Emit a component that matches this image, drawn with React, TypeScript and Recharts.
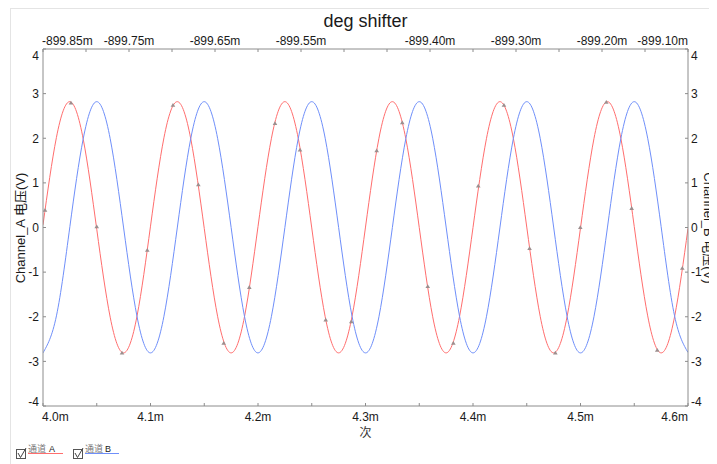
import React from 'react';
import { ComposedChart, Line, Scatter, XAxis, YAxis, Label } from 'recharts';

// time axis (ms) for sampled curve values
const times = [
  4.0, 4.0125, 4.025, 4.0375, 4.05, 4.0625, 4.075, 4.0875,
  4.1, 4.1125, 4.125, 4.1375, 4.15, 4.1625, 4.175, 4.1875,
  4.2, 4.2125, 4.225, 4.2375, 4.25, 4.2625, 4.275, 4.2875,
  4.3, 4.3125, 4.325, 4.3375, 4.35, 4.3625, 4.375, 4.3875,
  4.4, 4.4125, 4.425, 4.4375, 4.45, 4.4625, 4.475, 4.4875,
  4.5, 4.5125, 4.525, 4.5375, 4.55, 4.5625, 4.575, 4.5875,
  4.6,
];

// second (top) time scale, in ms, for the same samples
const topTimes = [
  -899.85, -899.834375, -899.81875, -899.803125, -899.7875, -899.771875, -899.75625, -899.740625,
  -899.725, -899.709375, -899.69375, -899.678125, -899.6625, -899.646875, -899.63125, -899.615625,
  -899.6, -899.584375, -899.56875, -899.553125, -899.5375, -899.521875, -899.50625, -899.490625,
  -899.475, -899.459375, -899.44375, -899.428125, -899.4125, -899.396875, -899.38125, -899.365625,
  -899.35, -899.334375, -899.31875, -899.303125, -899.2875, -899.271875, -899.25625, -899.240625,
  -899.225, -899.209375, -899.19375, -899.178125, -899.1625, -899.146875, -899.13125, -899.115625,
  -899.1,
];

// Channel_A voltage (V)
const channelA = [
  0.06, 2.02, 2.82, 1.97, -0.04, -2.01, -2.81, -1.98,
  0.03, 2.01, 2.82, 1.98, -0.02, -2.0, -2.81, -1.99,
  0.02, 2.0, 2.82, 1.99, -0.01, -2.0, -2.81, -1.99,
  0.01, 2.0, 2.82, 1.99, 0.0, -2.0, -2.81, -1.99,
  0.0, 1.99, 2.82, 2.0, 0.01, -1.99, -2.81, -2.0,
  -0.01, 1.99, 2.82, 2.0, 0.02, -1.98, -2.81, -2.0,
  -0.02,
];

// Channel_B voltage (V)
const channelB = [
  -2.81, -1.98, 0.02, 2.0, 2.82, 1.99, -0.01, -2.0,
  -2.81, -1.99, 0.01, 2.0, 2.82, 1.99, 0.0, -2.0,
  -2.81, -1.99, 0.0, 2.0, 2.82, 2.0, 0.0, -1.99,
  -2.81, -2.0, 0.0, 1.99, 2.82, 2.0, 0.01, -1.99,
  -2.81, -2.0, -0.01, 1.99, 2.82, 2.0, 0.01, -1.99,
  -2.81, -2.0, -0.01, 1.99, 2.82, 2.0, 0.02, -1.98,
  -2.8,
];

// sample markers drawn on Channel_A
const markerTimes = [
  4.0019, 4.026, 4.05, 4.0735, 4.097, 4.1209, 4.1445, 4.1681, 4.1919,
  4.2158, 4.2391, 4.263, 4.2868, 4.3104, 4.3342, 4.3579, 4.3817,
  4.4049, 4.4288, 4.4526, 4.4766, 4.4998, 4.524, 4.5476, 4.5714, 4.5947,
];
const markerValues = [
  0.39, 2.79, 0.02, -2.81, -0.51, 2.74, 0.96, -2.59, -1.34,
  2.33, 1.74, -2.07, -2.11, 1.72, 2.35, -1.32, -2.59,
  0.93, 2.74, -0.47, -2.81, 0.0, 2.81, 0.43, -2.75, -0.91,
];

// axis ticks
const bottomTicks = [4.0, 4.05, 4.1, 4.15, 4.2, 4.25, 4.3, 4.35, 4.4, 4.45, 4.5, 4.55, 4.6];
const bottomLabelTicks = [4.0, 4.1, 4.2, 4.3, 4.4, 4.5, 4.6];
const topTicks = [
  -899.85, -899.8, -899.75, -899.7, -899.65, -899.6, -899.55, -899.5,
  -899.45, -899.4, -899.35, -899.3, -899.25, -899.2, -899.15, -899.1,
];
const topLabelTicks = [-899.85, -899.75, -899.65, -899.55, -899.4, -899.3, -899.2, -899.1];
const yTicks = [-4, -3, -2, -1, 0, 1, 2, 3, 4];

const rows = times.map((t, i) => ({ t, tt: topTimes[i], a: channelA[i], b: channelB[i] }));
const markers = markerTimes.map((t, i) => ({ t, v: markerValues[i] }));

const AXIS = '#8c8c8c';
const TEXT = '#1a1a1a';
const RED = '#ff6e6e';
const BLUE = '#6f8ffa';
const FONT = '"Liberation Sans", Arial, "Noto Sans CJK SC", sans-serif';
const CJK = '"Noto Sans CJK SC", "Liberation Sans", sans-serif';

const near = (a: number, b: number) => Math.abs(a - b) < 1e-6;

function BottomTick(props: any) {
  const { x, y, payload } = props;
  const v = payload.value as number;
  const isLabel = bottomLabelTicks.some((t) => near(t, v));
  let anchor: 'start' | 'middle' | 'end' = 'middle';
  let dx = 0;
  if (near(v, bottomLabelTicks[0])) { anchor = 'start'; dx = -1; }
  if (near(v, bottomLabelTicks[bottomLabelTicks.length - 1])) { anchor = 'end'; dx = 0; }
  return (
    <g>
      <line x1={x} x2={x} y1={y} y2={y - 3} stroke={AXIS} />
      {isLabel && (
        <text x={x + dx} y={y + 15} textAnchor={anchor} fontSize={12} fontFamily={FONT} fill={TEXT}>
          {v.toFixed(1) + 'm'}
        </text>
      )}
    </g>
  );
}

function TopTick(props: any) {
  const { x, y, payload } = props;
  const v = payload.value as number;
  const isLabel = topLabelTicks.some((t) => near(t, v));
  let anchor: 'start' | 'middle' | 'end' = 'middle';
  let dx = 0;
  if (near(v, topLabelTicks[0])) { anchor = 'start'; dx = -1; }
  if (near(v, topLabelTicks[topLabelTicks.length - 1])) { anchor = 'end'; dx = 0; }
  return (
    <g>
      <line x1={x} x2={x} y1={y} y2={y + 3} stroke={AXIS} />
      {isLabel && (
        <text x={x + dx} y={y - 4.3} textAnchor={anchor} fontSize={12} fontFamily={FONT} fill={TEXT}>
          {v.toFixed(2) + 'm'}
        </text>
      )}
    </g>
  );
}

function yLabelBaseline(v: number, y: number) {
  if (v === yTicks[yTicks.length - 1]) return y + 11.4;
  if (v === yTicks[0]) return y;
  return y + 4.3;
}

function LeftTick(props: any) {
  const { x, y, payload } = props;
  const v = payload.value as number;
  return (
    <g>
      <line x1={x} x2={x + 3} y1={y} y2={y} stroke={AXIS} />
      <text x={x - 4} y={yLabelBaseline(v, y)} textAnchor="end" fontSize={12} fontFamily={FONT} fill={TEXT}>
        {String(v)}
      </text>
    </g>
  );
}

function RightTick(props: any) {
  const { x, y, payload } = props;
  const v = payload.value as number;
  return (
    <g>
      <line x1={x} x2={x - 3} y1={y} y2={y} stroke={AXIS} />
      <text x={x + 3} y={yLabelBaseline(v, y)} textAnchor="start" fontSize={12} fontFamily={FONT} fill={TEXT}>
        {String(v)}
      </text>
    </g>
  );
}

function Tri(props: any) {
  const { cx, cy } = props;
  if (cx == null || cy == null) return null;
  return (
    <polygon
      points={`${cx - 2.3},${cy + 1.6} ${cx + 2.3},${cy + 1.6} ${cx},${cy - 2.2}`}
      fill="#9c8e8e"
    />
  );
}

function Legend() {
  return (
    <svg
      width={130}
      height={28}
      style={{ position: 'absolute', left: 0, top: 428, overflow: 'visible' }}
    >
      <rect x={8.5} y={13.5} width={9} height={9} fill="#fff" stroke="#555" />
      <polyline points="10,17 12.5,21.5 18,12" fill="none" stroke="#444" strokeWidth={1} />
      <text x={20} y={15.5} fontSize={9} fill="#777" fontFamily={CJK}>通道</text>
      <text x={41} y={15.5} fontSize={9} fill={TEXT} fontFamily={FONT}>A</text>
      <line x1={20} x2={55} y1={17.5} y2={17.5} stroke={RED} />
      <rect x={65.5} y={13.5} width={9} height={9} fill="#fff" stroke="#555" />
      <polyline points="67,17 69.5,21.5 75,12" fill="none" stroke="#444" strokeWidth={1} />
      <text x={77} y={15.5} fontSize={9} fill="#777" fontFamily={CJK}>通道</text>
      <text x={97} y={15.5} fontSize={9} fill={TEXT} fontFamily={FONT}>B</text>
      <line x1={77} x2={111} y1={17.5} y2={17.5} stroke={BLUE} />
    </svg>
  );
}

export default function App() {
  return (
    <div style={{ position: 'relative', width: 709, height: 456 }}>
      <div
        style={{
          position: 'absolute', left: 2, top: 0, right: 0, bottom: 0,
          borderTop: '1px solid #e4e4e4', borderLeft: '1px solid #e4e4e4',
        }}
      />
      <ComposedChart
        width={709}
        height={456}
        data={rows}
        margin={{ top: 0, right: 0, bottom: 0, left: 0 }}
        style={{ position: 'absolute', left: 0, top: 0 }}
      >
        <XAxis
          xAxisId="top"
          orientation="top"
          dataKey="tt"
          type="number"
          domain={[topTicks[0], topTicks[topTicks.length - 1]]}
          allowDataOverflow
          ticks={topTicks}
          interval={0}
          height={41}
          tickLine={false}
          tickSize={0}
          tickMargin={0}
          tick={<TopTick />}
          axisLine={{ stroke: AXIS }}
        >
          <Label
            content={() => (
              <text x={357.5} y={19} textAnchor="middle" fontSize={18} fontFamily={FONT} fill={TEXT}>
                deg shifter
              </text>
            )}
          />
        </XAxis>
        <XAxis
          xAxisId="bottom"
          orientation="bottom"
          dataKey="t"
          type="number"
          domain={[bottomTicks[0], bottomTicks[bottomTicks.length - 1]]}
          allowDataOverflow
          ticks={bottomTicks}
          interval={0}
          height={58}
          tickLine={false}
          tickSize={0}
          tickMargin={0}
          tick={<BottomTick />}
          axisLine={{ stroke: AXIS }}
        >
          <Label
            content={() => (
              <text x={357.5} y={429} textAnchor="middle" fontSize={12} fontFamily={CJK} fill="#333">
                次
              </text>
            )}
          />
        </XAxis>
        <YAxis
          yAxisId="left"
          orientation="left"
          type="number"
          domain={[yTicks[0], yTicks[yTicks.length - 1]]}
          allowDataOverflow
          ticks={yTicks}
          interval={0}
          width={35}
          tickLine={false}
          tickSize={0}
          tickMargin={0}
          tick={<LeftTick />}
          axisLine={{ stroke: AXIS }}
        >
          <Label
            content={() => (
              <text
                x={17}
                y={220}
                transform="rotate(-90 17 220)"
                textAnchor="middle"
                fontSize={13}
                fontFamily={FONT}
                fill={TEXT}
              >
                Channel_A 电压(V)
              </text>
            )}
          />
        </YAxis>
        <YAxis
          yAxisId="right"
          orientation="right"
          type="number"
          domain={[yTicks[0], yTicks[yTicks.length - 1]]}
          allowDataOverflow
          ticks={yTicks}
          interval={0}
          width={29}
          tickLine={false}
          tickSize={0}
          tickMargin={0}
          tick={<RightTick />}
          axisLine={{ stroke: AXIS }}
        >
          <Label
            content={() => (
              <text
                x={696}
                y={220}
                transform="rotate(90 696 220)"
                textAnchor="middle"
                fontSize={13}
                fontFamily={FONT}
                fill={TEXT}
              >
                Channel_B 电压(V)
              </text>
            )}
          />
        </YAxis>
        {/* carries the top time scale; drawn without stroke */}
        <Line
          xAxisId="top"
          yAxisId="left"
          dataKey="a"
          type="natural"
          stroke="none"
          strokeWidth={0}
          dot={false}
          activeDot={false}
          isAnimationActive={false}
        />
        <Line
          xAxisId="bottom"
          yAxisId="left"
          dataKey="a"
          type="natural"
          stroke={RED}
          strokeWidth={1}
          dot={false}
          isAnimationActive={false}
        />
        <Line
          xAxisId="bottom"
          yAxisId="right"
          dataKey="b"
          type="natural"
          stroke={BLUE}
          strokeWidth={1}
          dot={false}
          isAnimationActive={false}
        />
        <Scatter
          xAxisId="bottom"
          yAxisId="left"
          data={markers}
          dataKey="v"
          shape={<Tri />}
          isAnimationActive={false}
        />
      </ComposedChart>
      <Legend />
    </div>
  );
}
